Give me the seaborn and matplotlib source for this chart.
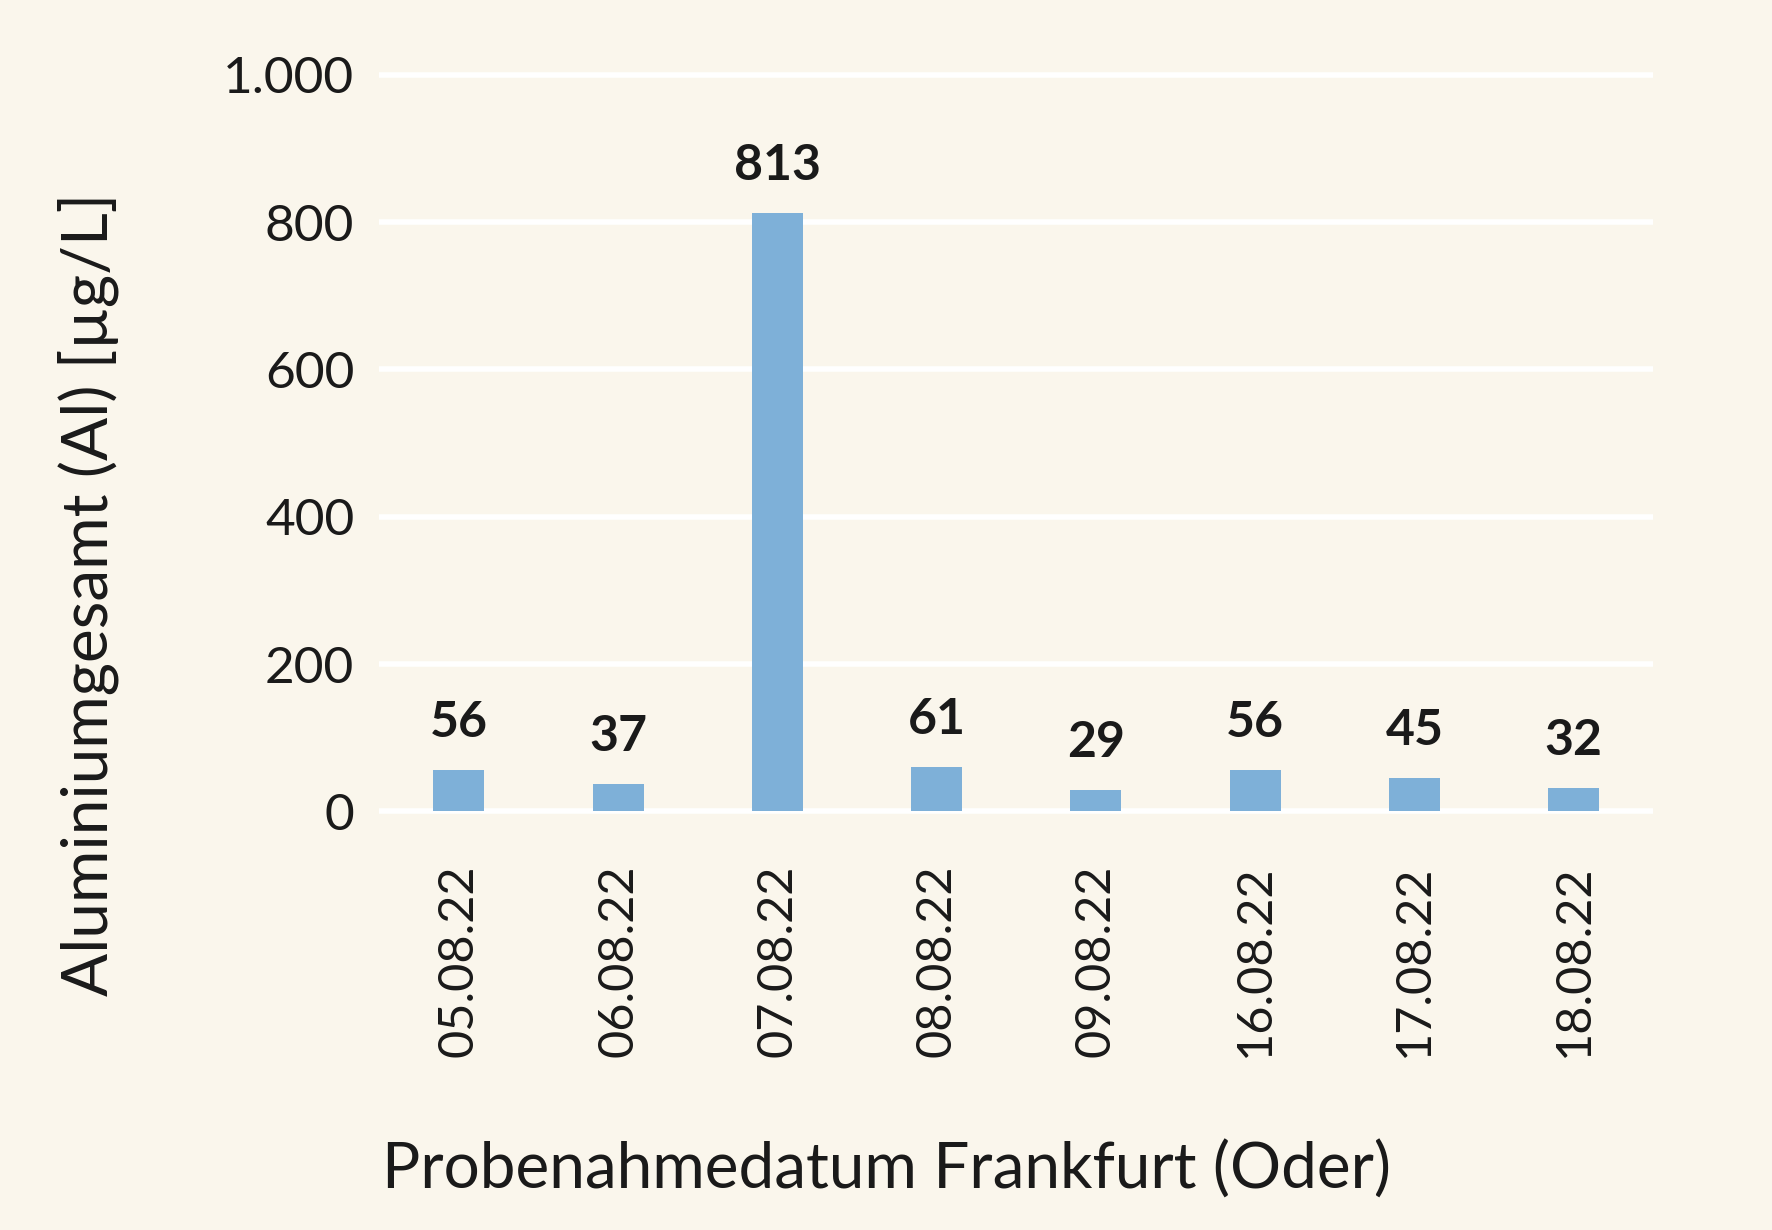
import matplotlib
matplotlib.use("Agg")
import matplotlib.pyplot as plt
import seaborn as sns
import pandas as pd
from matplotlib.ticker import FuncFormatter, MultipleLocator

dates = ["05.08.22", "06.08.22", "07.08.22", "08.08.22", "09.08.22", "16.08.22", "17.08.22", "18.08.22"]
values = [56, 37, 813, 61, 29, 56, 45, 32]

BG = "#FAF6EC"
BAR = "#7EB0D8"
TXT = "#1a1a1a"

sns.set_theme(style="white")
plt.rcParams["font.family"] = ["Lato", "DejaVu Sans"]

df = pd.DataFrame({"Datum": dates, "Wert": values})

fig = plt.figure(figsize=(8.86, 6.15), dpi=200, facecolor=BG)
ax = fig.add_axes([0.214, 0.3355, 0.719, 0.6085])
ax.set_facecolor(BG)

sns.barplot(data=df, x="Datum", y="Wert", color=BAR, saturation=1, width=0.32,
            linewidth=0, edgecolor=BAR, ax=ax, zorder=3)

ax.set_ylim(-8, 1008)
ax.set_xlim(-0.5, len(dates) - 0.5)
ax.yaxis.set_major_locator(MultipleLocator(200))
ax.yaxis.set_major_formatter(FuncFormatter(lambda v, p: f"{int(v):,}".replace(",", ".")))
ax.grid(axis="y", color="white", linewidth=2.0, zorder=0)
ax.grid(axis="x", visible=False)
for s in ax.spines.values():
    s.set_visible(False)
ax.tick_params(axis="y", length=0, pad=9, labelsize=18.5, labelcolor=TXT)
ax.tick_params(axis="x", length=0, pad=17, labelsize=17.5, labelcolor=TXT, labelrotation=90)
ax.set_xlabel("")
ax.set_ylabel("")

ax.bar_label(ax.containers[0], labels=[str(v) for v in values], padding=9,
             fontsize=18, fontweight="bold", color=TXT)

fig.text(0.50, 0.049, "Probenahmedatum Frankfurt (Oder)", ha="center", va="center",
         fontsize=23, color=TXT)
fig.text(0.050, 0.517, "Aluminiumgesamt (Al) [µg/L]", ha="center", va="center",
         rotation=90, fontsize=23, color=TXT)

fig.savefig("out.png", dpi=200, facecolor=BG)
